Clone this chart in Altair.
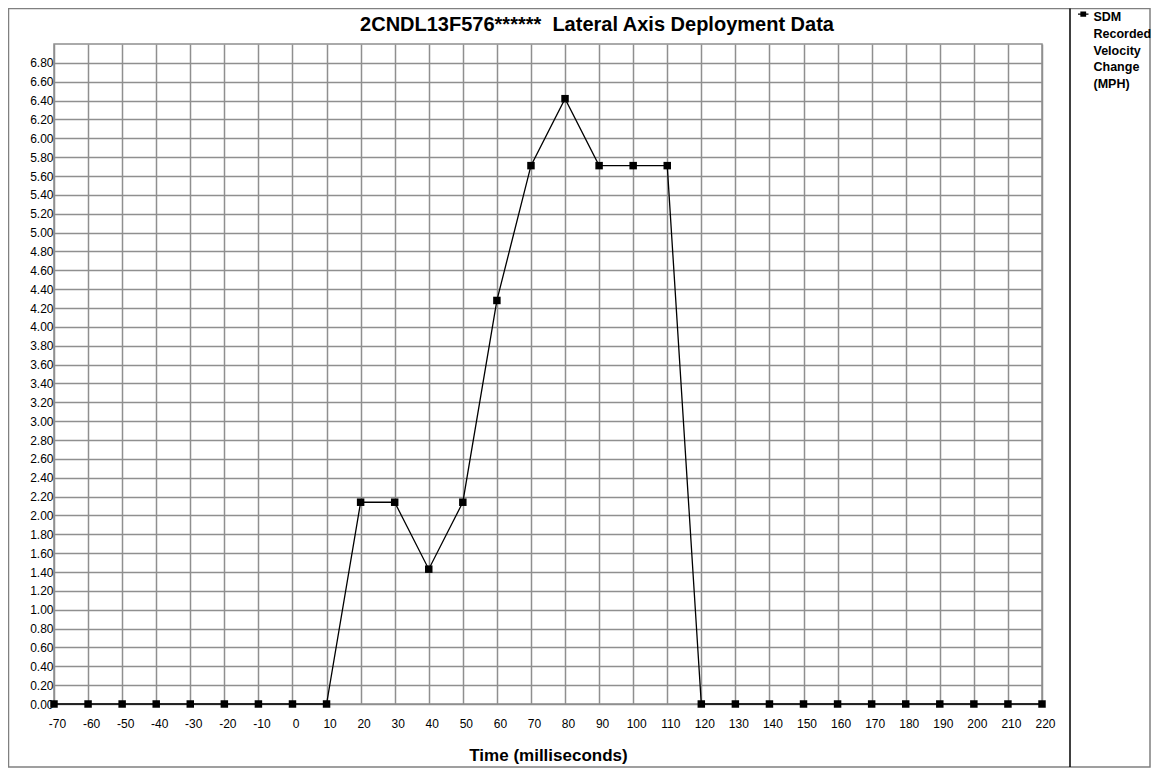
import altair as alt
import pandas as pd

# ---- data ----
time_ms = [-70, -60, -50, -40, -30, -20, -10, 0, 10, 20, 30, 40, 50, 60, 70,
           80, 90, 100, 110, 120, 130, 140, 150, 160, 170, 180, 190, 200, 210, 220]
velocity_mph = [0.00, 0.00, 0.00, 0.00, 0.00, 0.00, 0.00, 0.00, 0.00,
                2.14, 2.14, 1.43, 2.14, 4.28, 5.71, 6.42, 5.71, 5.71, 5.71,
                0.00, 0.00, 0.00, 0.00, 0.00, 0.00, 0.00, 0.00, 0.00, 0.00, 0.00]
y_ticks = [0.0, 0.2, 0.4, 0.6, 0.8, 1.0, 1.2, 1.4, 1.6, 1.8, 2.0, 2.2, 2.4, 2.6,
           2.8, 3.0, 3.2, 3.4, 3.6, 3.8, 4.0, 4.2, 4.4, 4.6, 4.8, 5.0, 5.2, 5.4,
           5.6, 5.8, 6.0, 6.2, 6.4, 6.6, 6.8]
series_name = "SDM Recorded Velocity Change (MPH)"
chart_title = "2CNDL13F576******\u00a0 Lateral Axis Deployment Data"
x_title = "Time (milliseconds)"

df = pd.DataFrame({"time": time_ms, "velocity": velocity_mph, "series": series_name})

FONT = "Liberation Sans"
W, H = 988, 660
PAD_L, PAD_T, PAD_R, PAD_B = 46, 36, 110, 64
GRID = "#8f8f8f"

x_enc = alt.X(
    "time:Q",
    scale=alt.Scale(domain=[-70, 220], nice=False, zero=False),
    axis=alt.Axis(values=time_ms, labelExpr="datum.value + ''", title=x_title,
                  grid=True, ticks=False, domain=False, labelPadding=14,
                  labelOffset=3, labelFontSize=12, labelFont=FONT,
                  labelColor="black", labelFlush=False, labelOverlap=False,
                  titleFont=FONT, titleFontSize=17, titleFontWeight="bold",
                  titleColor="black", titleBaseline="alphabetic", titleY=56),
)
y_enc = alt.Y(
    "velocity:Q",
    scale=alt.Scale(domain=[0, 7.0], nice=False, zero=True),
    axis=alt.Axis(values=y_ticks, format=".2f", title=None, grid=True,
                  ticks=False, domain=False, labelPadding=1,
                  labelFontSize=12, labelFont=FONT, labelColor="black",
                  labelFlush=False, labelOverlap=False),
)
color_enc = alt.Color(
    "series:N",
    scale=alt.Scale(range=["black"]),
    legend=alt.Legend(
        title=None, orient="none", legendX=1023, legendY=-39, padding=0,
        symbolType="M-0.55,0.05L0.55,0.05L0.55,1.05L-0.55,1.05Z "
                   "M-1,0.41L1,0.41L1,0.69L-1,0.69Z",
        symbolSize=110, symbolFillColor="black", symbolStrokeWidth=0,
        labelExpr="split(datum.label, ' ')", labelBaseline="top",
        labelFont=FONT, labelFontSize=12.5, labelFontWeight="bold",
        labelColor="black", labelOffset=4, labelLimit=200,
    ),
)

line = alt.Chart(df).mark_line(color="black", strokeWidth=1.3).encode(
    x=x_enc, y=y_enc
)
points = alt.Chart(df).mark_point(
    shape="square", filled=True, size=56, opacity=1
).encode(x=x_enc, y=y_enc, color=color_enc)

one = alt.Data(values=[{"k": 0}])
frame = alt.Chart(one).mark_rect(
    filled=False, stroke="#808080", strokeWidth=1.5
).encode(
    x=alt.value(-PAD_L + 0.5), x2=alt.value(1096),
    y=alt.value(-PAD_T + 0.5), y2=alt.value(723),
)
divider = alt.Chart(one).mark_rule(color="black", strokeWidth=1.5).encode(
    x=alt.value(1016), y=alt.value(-PAD_T + 0.5), y2=alt.value(723)
)

chart = alt.layer(frame, divider, line, points).properties(
    width=W, height=H,
    title=alt.TitleParams(text=chart_title, anchor="middle", frame="group",
                          font=FONT, fontSize=20, fontWeight="bold",
                          color="black", dx=49, offset=-46,
                          baseline="alphabetic"),
    autosize=alt.AutoSizeParams(type="none"),
    padding={"left": PAD_L, "top": PAD_T, "right": PAD_R, "bottom": PAD_B},
).configure(
    style={"guide-label": {"lineHeight": 16.7}}
).configure_view(
    stroke=GRID, strokeWidth=1.5
).configure_axis(
    gridColor=GRID, gridWidth=1.5, gridOpacity=1
)

chart.save("out.html", embed_options={"renderer": "svg", "actions": False})
